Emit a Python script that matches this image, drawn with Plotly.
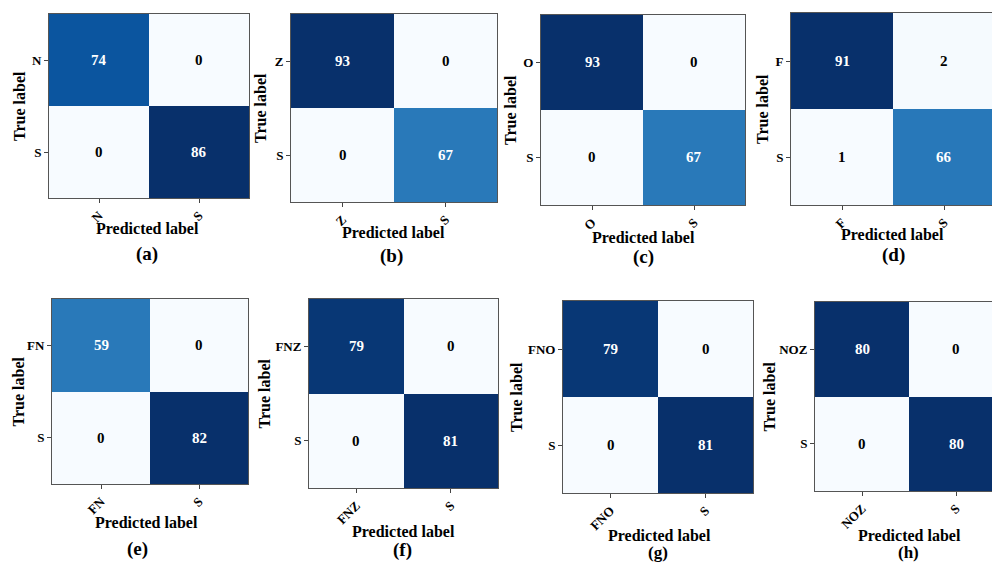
import plotly.graph_objects as go

# ---- data -------------------------------------------------------------
panel_tags = ["(a)", "(b)", "(c)", "(d)", "(e)", "(f)", "(g)", "(h)"]
class_names = [
    ["N", "S"], ["Z", "S"], ["O", "S"], ["F", "S"],
    ["FN", "S"], ["FNZ", "S"], ["FNO", "S"], ["NOZ", "S"],
]
cm_a = [[74, 0], [0, 86]]
cm_b = [[93, 0], [0, 67]]
cm_c = [[93, 0], [0, 67]]
cm_d = [[91, 2], [1, 66]]
cm_e = [[59, 0], [0, 82]]
cm_f = [[79, 0], [0, 81]]
cm_g = [[79, 0], [0, 81]]
cm_h = [[80, 0], [0, 80]]
matrices = [cm_a, cm_b, cm_c, cm_d, cm_e, cm_f, cm_g, cm_h]

# ---- styling / layout -------------------------------------------------
W, H = 992, 562
FONT = "'Liberation Serif', 'Times New Roman', 'DejaVu Serif', serif"

# ColorBrewer "Blues" (9-class), light -> dark
BLUES = [
    [0.000, "rgb(247,251,255)"], [0.125, "rgb(222,235,247)"],
    [0.250, "rgb(198,219,239)"], [0.375, "rgb(158,202,225)"],
    [0.500, "rgb(107,174,214)"], [0.625, "rgb(66,146,198)"],
    [0.750, "rgb(33,113,181)"], [0.875, "rgb(8,81,156)"],
    [1.000, "rgb(8,48,107)"],
]

# pixel box of each matrix: left, right, top, bottom
boxes = [
    (49, 249, 14, 198), (291, 497, 14, 202), (541, 745, 15, 205), (791, 995, 13, 205),
    (52, 248, 299, 484), (309, 498, 299, 488), (563, 753, 301, 493), (815, 1003, 302, 491),
]
ylabel_x = [20, 260, 510, 763, 18, 264, 516, 769]
xlabel_xy = [(147, 228), (393, 232), (643, 237), (892, 235),
             (146, 522), (403, 531), (659, 535), (909, 535)]
tag_xy = [(147, 254), (391, 256), (643, 257), (893, 255),
          (137, 549), (402, 550), (658, 552), (908, 552)]
tag_size = [19, 19, 19, 19, 19, 19, 17, 17]

fig = go.Figure()
axis_font = dict(family=FONT, size=13, color="black", weight="bold")

for i, z in enumerate(matrices):
    l, r, t, b = boxes[i]
    r_vis = min(r, W)
    cell = (r - l) / 2.0
    x_end = -0.5 + (r_vis - l) / cell
    sfx = "" if i == 0 else str(i + 1)

    flat = [v for row in z for v in row]
    zmin, zmax = min(flat), max(flat)
    thresh = (zmin + zmax) / 2.0

    fig.add_trace(go.Heatmap(
        z=z, x=[0, 1], y=[0, 1], colorscale=BLUES, zmin=zmin, zmax=zmax,
        showscale=False, hoverinfo="skip", xaxis="x" + sfx, yaxis="y" + sfx,
    ))

    for ri in range(2):
        for ci in range(2):
            v = z[ri][ci]
            fig.add_annotation(
                x=ci, y=ri, xref="x" + sfx, yref="y" + sfx, text=str(v),
                showarrow=False,
                font=dict(family=FONT, size=15, weight="bold",
                          color="white" if v > thresh else "black"),
            )

    fig.layout["xaxis" + sfx] = dict(
        domain=[l / W, r_vis / W], anchor="y" + sfx, range=[-0.5, x_end],
        tickvals=[0, 1], ticktext=class_names[i], tickangle=-45,
        ticks="outside", ticklen=4, tickwidth=1, tickcolor="#444",
        showline=True, mirror=True, linecolor="#555", linewidth=1,
        showgrid=False, zeroline=False, tickfont=axis_font, fixedrange=True,
    )
    fig.layout["yaxis" + sfx] = dict(
        domain=[1 - b / H, 1 - t / H], anchor="x" + sfx, range=[1.5, -0.5],
        tickvals=[0, 1], ticktext=class_names[i],
        ticks="outside", ticklen=4, tickwidth=1, tickcolor="#444",
        showline=True, mirror=True, linecolor="#555", linewidth=1,
        showgrid=False, zeroline=False, tickfont=axis_font, fixedrange=True,
    )

    # axis titles and panel tag
    fig.add_annotation(
        x=ylabel_x[i] / W, y=1 - ((t + b) / 2) / H, xref="paper", yref="paper",
        text="True label", textangle=-90, showarrow=False,
        xanchor="center", yanchor="middle",
        font=dict(family=FONT, size=16, color="black", weight="bold"),
    )
    fig.add_annotation(
        x=xlabel_xy[i][0] / W, y=1 - xlabel_xy[i][1] / H, xref="paper", yref="paper",
        text="Predicted label", showarrow=False, xanchor="center", yanchor="middle",
        font=dict(family=FONT, size=16, color="black", weight="bold"),
    )
    fig.add_annotation(
        x=tag_xy[i][0] / W, y=1 - tag_xy[i][1] / H, xref="paper", yref="paper",
        text=panel_tags[i], showarrow=False, xanchor="center", yanchor="middle",
        font=dict(family=FONT, size=tag_size[i], color="black", weight="bold"),
    )

fig.update_layout(
    width=W, height=H, margin=dict(l=0, r=0, t=0, b=0),
    paper_bgcolor="white", plot_bgcolor="white", showlegend=False,
    font=dict(family=FONT),
)

fig.write_html("out.html", config={"displayModeBar": False})
